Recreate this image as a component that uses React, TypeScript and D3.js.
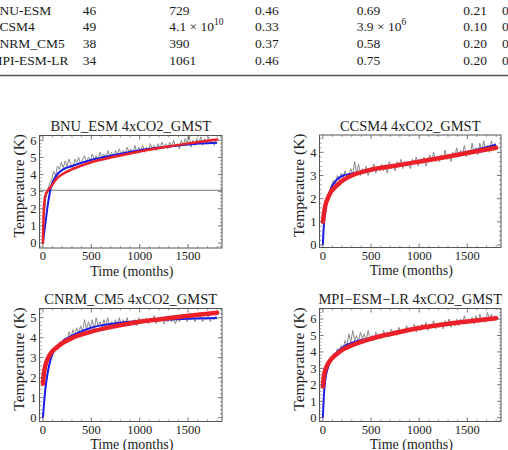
import * as d3 from "d3";

const W = 508;
const H = 450;
const serif = "'Liberation Serif', 'Times New Roman', Times, 'Nimbus Roman', serif";

// table rows above the figure
const modelNames = ["BNU-ESM", "CCSM4", "CNRM_CM5", "MPI-ESM-LR"];
const colN = ["46", "49", "38", "34"];
const colTauMantissa = ["729", "4.1 × 10", "390", "1061"];
const colTauExp = ["", "10", "", ""];
const colA = ["0.46", "0.33", "0.37", "0.46"];
const colBMantissa = ["0.69", "3.9 × 10", "0.58", "0.75"];
const colBExp = ["", "6", "", ""];
const colC = ["0.21", "0.10", "0.20", "0.20"];
const colD = ["0.", "0.", "0.", "0."];

// time axes
const grayMonths = d3.range(10, 1800, 20);
const fitMonths = [0, 10, 25, 50, 85, 140, 210, 300, 500, 750, 1000, 1250, 1500, 1800];
const monthTicks = [0, 500, 1000, 1500];

// BNU_ESM
const bnuGray = [
  1.3, 2.6, 3.1, 3.5, 3.7, 4.2, 3.9, 4.5, 4.3, 4.7,
  4.4, 4.8, 4.5, 4.9, 4.6, 4.3, 4.9, 4.7, 5.0, 4.6,
  4.9, 5.1, 4.7, 5.0, 4.8, 5.2, 4.9, 5.1, 4.8, 5.3,
  5.0, 5.2, 4.9, 5.4, 5.1, 5.3, 5.0, 5.4, 5.2, 5.5,
  5.1, 5.4, 5.2, 5.6, 5.3, 5.5, 5.2, 5.7, 5.3, 5.6,
  5.4, 5.7, 5.3, 5.6, 5.4, 5.8, 5.5, 5.7, 5.4, 5.8,
  5.5, 5.9, 5.6, 5.8, 5.5, 5.9, 5.6, 6.0, 5.6, 5.8,
  5.5, 6.0, 5.7, 6.1, 5.8, 6.3, 5.6, 6.0, 5.7, 6.1,
  5.8, 6.2, 5.7, 6.1, 5.8, 6.2, 5.9, 6.1, 5.7, 6.0,
];
const bnuBlue = [0, 0.45, 1.1, 2.2, 3.3, 3.95, 4.3, 4.5, 4.85, 5.15, 5.42, 5.6, 5.75, 5.85];
const bnuRed = [0, 2.0, 2.75, 3.05, 3.3, 3.75, 4.05, 4.3, 4.72, 5.05, 5.35, 5.6, 5.82, 6.05];
const bnuLevel = 3.08;
const bnuTicks = [0, 1, 2, 3, 4, 5, 6];

// CCSM4
const ccsmGray = [
  0.9, 1.7, 2.0, 2.3, 2.6, 2.8, 2.6, 3.0, 2.8, 3.1,
  2.9, 3.2, 2.9, 3.0, 3.3, 3.0, 3.6, 3.1, 3.5, 3.0,
  3.3, 3.1, 3.4, 3.0, 3.3, 3.2, 3.5, 3.1, 3.4, 3.2,
  3.5, 3.2, 3.4, 3.1, 3.6, 3.3, 3.5, 3.2, 3.6, 3.4,
  3.7, 3.3, 3.6, 3.4, 3.5, 3.3, 3.7, 3.5, 3.8, 3.4,
  3.7, 3.5, 3.8, 3.4, 3.6, 3.9, 3.6, 4.0, 3.6, 3.8,
  3.6, 3.9, 3.7, 4.1, 3.7, 3.9, 3.6, 4.0, 3.8, 4.2,
  3.8, 4.1, 3.9, 4.3, 3.8, 4.1, 3.9, 4.4, 4.0, 4.2,
  3.9, 4.4, 4.0, 4.5, 4.1, 4.3, 4.0, 4.5, 4.2, 4.4,
];
const ccsmBlue = [0, 0.86, 1.45, 2.0, 2.45, 2.8, 3.0, 3.08, 3.25, 3.42, 3.6, 3.8, 4.02, 4.33];
const ccsmRed = [1.0, 1.3, 1.7, 2.0, 2.3, 2.55, 2.8, 3.0, 3.25, 3.42, 3.6, 3.78, 3.97, 4.2];
const ccsmTicks = [0, 1, 2, 3, 4];

// CNRM_CM5
const cnrmGray = [
  0.7, 1.8, 2.4, 2.8, 3.1, 3.3, 3.6, 3.4, 3.8, 3.6,
  3.9, 4.0, 3.8, 4.3, 4.0, 4.4, 4.1, 4.5, 4.2, 4.6,
  4.3, 4.9, 4.4, 4.8, 4.5, 4.9, 4.4, 5.0, 4.6, 4.8,
  4.5, 4.9, 4.6, 5.0, 4.5, 4.8, 4.6, 4.9, 4.7, 5.0,
  4.6, 4.9, 4.7, 5.0, 4.6, 4.8, 4.7, 4.9, 4.6, 5.0,
  4.7, 4.9, 4.8, 5.0, 4.7, 4.9, 4.8, 5.1, 4.7, 4.9,
  4.8, 5.0, 4.7, 4.9, 4.8, 5.1, 4.8, 4.9, 4.7, 5.0,
  4.8, 5.0, 4.9, 5.1, 4.8, 5.0, 4.9, 5.1, 4.8, 5.0,
  4.9, 5.1, 4.8, 5.0, 4.9, 5.1, 4.8, 5.0, 4.9, 5.1,
];
const cnrmBlue = [0, 0.6, 1.4, 2.25, 3.0, 3.5, 3.85, 4.1, 4.5, 4.72, 4.83, 4.9, 4.95, 4.98];
const cnrmRed = [1.7, 2.2, 2.6, 2.95, 3.25, 3.5, 3.75, 3.98, 4.3, 4.58, 4.8, 4.95, 5.1, 5.25];
const cnrmTicks = [0, 1, 2, 3, 4, 5];

// MPI-ESM-LR
const mpiGray = [
  1.4, 2.5, 3.0, 3.4, 3.6, 3.9, 3.7, 4.2, 4.0, 4.4,
  4.2, 4.7, 4.4, 5.1, 4.6, 5.3, 4.7, 5.0, 4.6, 5.2,
  4.8, 5.1, 4.7, 5.3, 4.8, 5.0, 4.7, 5.2, 4.9, 5.1,
  4.8, 5.3, 5.0, 5.2, 4.9, 5.4, 5.1, 5.3, 5.0, 5.5,
  5.1, 5.4, 5.2, 5.6, 5.2, 5.5, 5.3, 5.7, 5.2, 5.6,
  5.3, 5.7, 5.4, 5.8, 5.3, 5.6, 5.5, 5.9, 5.4, 5.7,
  5.5, 5.8, 5.4, 5.9, 5.6, 6.0, 5.5, 5.8, 5.6, 6.0,
  5.6, 6.0, 5.7, 6.2, 5.7, 6.0, 5.8, 6.1, 5.7, 6.2,
  5.8, 6.3, 5.9, 6.1, 5.8, 6.4, 6.0, 6.3, 5.9, 6.2,
];
const mpiBlue = [0, 1.3, 2.3, 3.0, 3.5, 3.95, 4.3, 4.55, 4.85, 5.2, 5.45, 5.68, 5.86, 6.05];
const mpiRed = [1.9, 2.5, 2.9, 3.25, 3.55, 3.85, 4.15, 4.4, 4.8, 5.15, 5.45, 5.67, 5.85, 6.05];
const mpiTicks = [0, 1, 2, 3, 4, 5, 6];

const xDomain: [number, number] = [-35, 1850];

type PanelProps = {
  id: string;
  title: string;
  frame: [number, number, number, number];
  yDomain: [number, number];
  yTicks: number[];
  gray: number[];
  blue: number[];
  red: number[];
  redWidth: number;
  level?: number;
};

function Panel({ id, title, frame, yDomain, yTicks, gray, blue, red, redWidth, level }: PanelProps) {
  const [l, t, r, b] = frame;
  const x = d3.scaleLinear().domain(xDomain).range([l, r]);
  const y = d3.scaleLinear().domain(yDomain).range([b, t]);

  const grayLine = d3
    .line<number>()
    .x((_, i) => x(grayMonths[i]))
    .y((d) => y(d));
  const fitLine = d3
    .line<number>()
    .x((_, i) => x(fitMonths[i]))
    .y((d) => y(d))
    .curve(d3.curveMonotoneX);

  const xMinor = d3.range(0, 1801, 100).filter((v) => !monthTicks.includes(v));
  const yMinor = d3
    .range(Math.ceil(yDomain[0] * 5) / 5, yDomain[1], 0.2)
    .filter((v) => Math.abs(v - Math.round(v)) > 0.01);

  const tickStroke = "#555";
  const cx = (l + r) / 2;

  return (
    <g>
      <defs>
        <clipPath id={id}>
          <rect x={l} y={t} width={r - l} height={b - t} />
        </clipPath>
      </defs>
      <g clipPath={`url(#${id})`}>
        {level !== undefined && (
          <line x1={l} x2={r} y1={y(level)} y2={y(level)} stroke="#777" strokeWidth={1} />
        )}
        <path d={grayLine(gray) ?? ""} fill="none" stroke="#8a8a8a" strokeWidth={1} />
        <path d={fitLine(blue) ?? ""} fill="none" stroke="#1c1ce6" strokeWidth={2} />
        <path
          d={fitLine(red) ?? ""}
          fill="none"
          stroke="#ec2028"
          strokeWidth={redWidth}
          strokeLinecap="round"
          strokeLinejoin="round"
        />
      </g>

      {/* frame ticks on all four sides */}
      {monthTicks.map((v) => (
        <g key={`xm${v}`} stroke={tickStroke} strokeWidth={0.8}>
          <line x1={x(v)} x2={x(v)} y1={b} y2={b - 4} />
          <line x1={x(v)} x2={x(v)} y1={t} y2={t + 4} />
        </g>
      ))}
      {xMinor.map((v) => (
        <g key={`xn${v}`} stroke={tickStroke} strokeWidth={0.6}>
          <line x1={x(v)} x2={x(v)} y1={b} y2={b - 2} />
          <line x1={x(v)} x2={x(v)} y1={t} y2={t + 2} />
        </g>
      ))}
      {yTicks.map((v) => (
        <g key={`ym${v}`} stroke={tickStroke} strokeWidth={0.8}>
          <line x1={l} x2={l + 4} y1={y(v)} y2={y(v)} />
          <line x1={r} x2={r - 4} y1={y(v)} y2={y(v)} />
        </g>
      ))}
      {yMinor.map((v) => (
        <g key={`yn${v.toFixed(1)}`} stroke={tickStroke} strokeWidth={0.6}>
          <line x1={l} x2={l + 2} y1={y(v)} y2={y(v)} />
          <line x1={r} x2={r - 2} y1={y(v)} y2={y(v)} />
        </g>
      ))}
      <rect x={l} y={t} width={r - l} height={b - t} fill="none" stroke="#555" strokeWidth={1} />

      <g style={{ fontFamily: serif }} fill="#222">
        {monthTicks.map((v) => (
          <text key={`xl${v}`} x={x(v)} y={b + 12} fontSize={12.5} textAnchor="middle">
            {v}
          </text>
        ))}
        {yTicks.map((v) => (
          <text key={`yl${v}`} x={l - 3} y={y(v)} dy="0.35em" fontSize={12.5} textAnchor="end">
            {v}
          </text>
        ))}
        <text x={cx} y={t - 4.5} fontSize={14.5} textAnchor="middle">
          {title}
        </text>
        <text x={cx + 1} y={b + 27.5} fontSize={14} textAnchor="middle">
          Time (months)
        </text>
        <text
          transform={`translate(${l - 21},${(t + b) / 2 - 6}) rotate(-90)`}
          dy="0.35em"
          fontSize={15.5}
          textAnchor="middle"
        >
          Temperature (K)
        </text>
      </g>
    </g>
  );
}

function Sci({ x, y, m, e }: { x: number; y: number; m: string; e: string }) {
  return (
    <text x={x} y={y}>
      {m}
      {e && (
        <tspan dy={-6} fontSize={9.5}>
          {e}
        </tspan>
      )}
    </text>
  );
}

export default function App() {
  const rowY = [14.5, 31.3, 48.1, 64.9];

  return (
    <svg
      width={W}
      height={H}
      viewBox={`0 0 ${W} ${H}`}
      style={{ position: "absolute", left: 0, top: 0, background: "#fff" }}
    >
      <rect width={W} height={H} fill="#fff" />

      <g style={{ fontFamily: serif, fontSize: "13.5px" }} fill="#1a1a1a">
        {modelNames.map((name, i) => (
          <g key={name}>
            <text x={-9.5} y={rowY[i]}>
              {name}
            </text>
            <text x={82.7} y={rowY[i]}>
              {colN[i]}
            </text>
            <Sci x={169.3} y={rowY[i]} m={colTauMantissa[i]} e={colTauExp[i]} />
            <text x={255} y={rowY[i]}>
              {colA[i]}
            </text>
            <Sci x={356.7} y={rowY[i]} m={colBMantissa[i]} e={colBExp[i]} />
            <text x={463.3} y={rowY[i]}>
              {colC[i]}
            </text>
            <text x={502} y={rowY[i]}>
              {colD[i]}
            </text>
          </g>
        ))}
      </g>
      <line x1={0} x2={W} y1={75.5} y2={75.5} stroke="#555" strokeWidth={1.4} />

      <Panel
        id="clip-bnu"
        title="BNU_ESM 4xCO2_GMST"
        frame={[39.5, 135.5, 222, 248]}
        yDomain={[-0.29, 6.28]}
        yTicks={bnuTicks}
        gray={bnuGray}
        blue={bnuBlue}
        red={bnuRed}
        redWidth={2.5}
        level={bnuLevel}
      />
      <Panel
        id="clip-ccsm"
        title="CCSM4 4xCO2_GMST"
        frame={[319.5, 135, 501, 247.5]}
        yDomain={[-0.11, 4.75]}
        yTicks={ccsmTicks}
        gray={ccsmGray}
        blue={ccsmBlue}
        red={ccsmRed}
        redWidth={4.5}
      />
      <Panel
        id="clip-cnrm"
        title="CNRM_CM5 4xCO2_GMST"
        frame={[39.5, 308.5, 222, 421.5]}
        yDomain={[-0.19, 5.46]}
        yTicks={cnrmTicks}
        gray={cnrmGray}
        blue={cnrmBlue}
        red={cnrmRed}
        redWidth={4.5}
      />
      <Panel
        id="clip-mpi"
        title="MPI−ESM−LR 4xCO2_GMST"
        frame={[319.5, 308.5, 501, 421.5]}
        yDomain={[-0.23, 6.64]}
        yTicks={mpiTicks}
        gray={mpiGray}
        blue={mpiBlue}
        red={mpiRed}
        redWidth={4.5}
      />
    </svg>
  );
}
